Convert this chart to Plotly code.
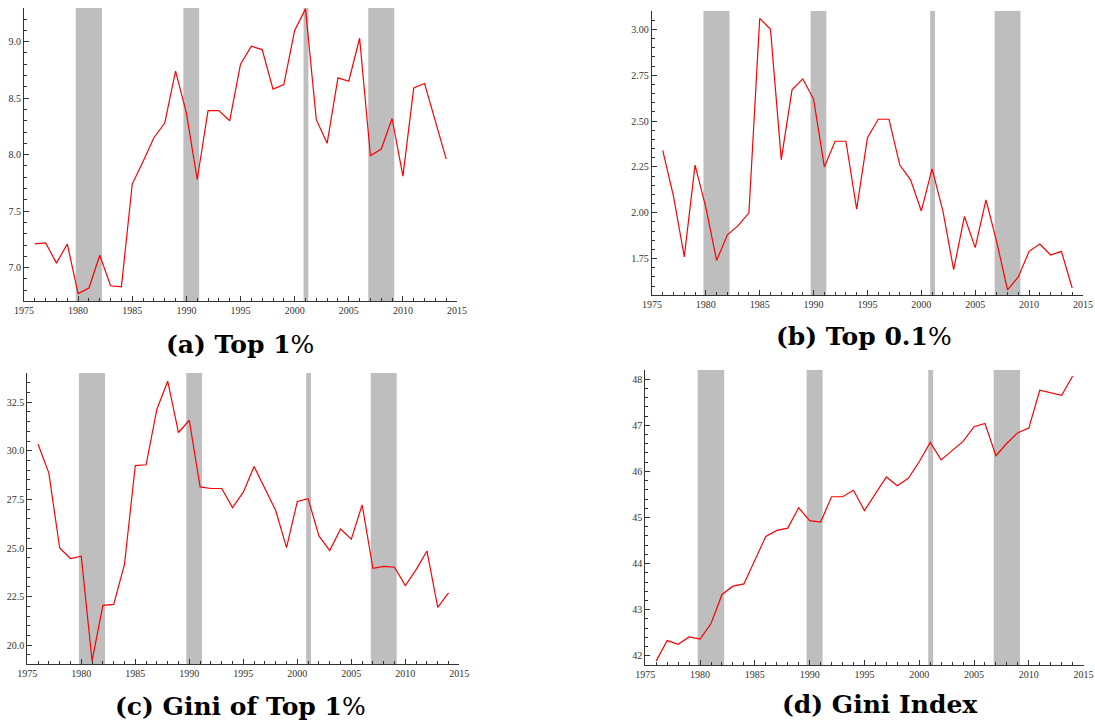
import plotly.graph_objects as go

years = list(range(1976, 2015))

top1 = [7.21, 7.22, 7.04, 7.21, 6.77, 6.82, 7.11, 6.84, 6.83,
        7.74, 7.94, 8.15, 8.28, 8.74, 8.37, 7.78, 8.39, 8.39, 8.30,
        8.80, 8.96, 8.93, 8.58, 8.62, 9.10, 9.29, 8.31, 8.10, 8.68,
        8.65, 9.03, 7.99, 8.05, 8.32, 7.81, 8.59, 8.63, 8.30, 7.96]

top01 = [2.34, 2.09, 1.76, 2.26, 2.03, 1.74, 1.88, 1.93, 2.00,
         3.06, 3.00, 2.29, 2.67, 2.73, 2.62, 2.25, 2.39, 2.39, 2.02,
         2.41, 2.51, 2.51, 2.26, 2.18, 2.01, 2.24, 2.01, 1.69, 1.98,
         1.81, 2.07, 1.84, 1.58, 1.65, 1.79, 1.83, 1.77, 1.79, 1.59]

gini_top1 = [30.34, 28.85, 25.00, 24.46, 24.58, 19.19, 22.05, 22.10, 24.16,
             29.24, 29.28, 32.14, 33.58, 30.94, 31.57, 28.14, 28.06, 28.06, 27.08,
             27.87, 29.19, 28.06, 26.93, 25.02, 27.39, 27.54, 25.62, 24.87, 25.98,
             25.45, 27.22, 23.96, 24.06, 24.01, 23.07, 23.89, 24.85, 21.95, 22.69]

gini_index = [41.89, 42.33, 42.25, 42.41, 42.36, 42.70, 43.33, 43.51, 43.56,
              44.08, 44.59, 44.72, 44.77, 45.21, 44.93, 44.90, 45.45, 45.45, 45.59,
              45.15, 45.52, 45.88, 45.69, 45.85, 46.21, 46.63, 46.25, 46.44, 46.65,
              46.97, 47.04, 46.34, 46.61, 46.84, 46.94, 47.76, 47.71, 47.65, 48.07]

rec_start = [1979.78, 1989.72, 2000.82, 2006.80]
rec_end = [1982.20, 1991.18, 2001.27, 2009.20]

captions = ["<b>(a) Top 1</b>%", "<b>(b) Top 0.1</b>%",
            "<b>(c) Gini of Top 1</b>%", "<b>(d) Gini Index</b>"]
x_ticks = [1975, 1980, 1985, 1990, 1995, 2000, 2005, 2010, 2015]

panels = [
    dict(data=top1, xdom=[0.0219, 0.4174], ydom=[0.5854, 0.9890], yrange=[6.705, 9.298],
         dtick=0.5, minor=0.1, fmt=".1f", cap_x=240, cap_y=344),
    dict(data=top01, xdom=[0.5954, 0.9890], ydom=[0.5937, 0.9848], yrange=[1.552, 3.10],
         dtick=0.25, minor=0.05, fmt=".2f", cap_x=864, cap_y=336),
    dict(data=gini_top1, xdom=[0.0249, 0.4195], ydom=[0.0850, 0.4862], yrange=[19.02, 34.0],
         dtick=2.5, minor=0.5, fmt=".1f", cap_x=240, cap_y=706),
    dict(data=gini_index, xdom=[0.5893, 0.9896], ydom=[0.0840, 0.4904], yrange=[41.8, 48.2],
         dtick=1, minor=0.2, fmt="d", cap_x=880, cap_y=704),
]

W, H = 1095, 726
fig = go.Figure()
tickfont = dict(family="Liberation Serif", size=10, color="#333333")
layout = dict(width=W, height=H, margin=dict(l=0, r=0, t=0, b=0, autoexpand=False),
              paper_bgcolor="white", plot_bgcolor="white", showlegend=False)
shapes = []
annotations = []

for i, p in enumerate(panels):
    n = i + 1
    xa = "x" if n == 1 else f"x{n}"
    ya = "y" if n == 1 else f"y{n}"
    fig.add_trace(go.Scatter(x=years, y=p["data"], mode="lines",
                             line=dict(color="#ff0000", width=1.2),
                             xaxis=xa, yaxis=ya, hoverinfo="skip", cliponaxis=False))
    xkey = "xaxis" if n == 1 else f"xaxis{n}"
    ykey = "yaxis" if n == 1 else f"yaxis{n}"
    layout[xkey] = dict(domain=p["xdom"], range=[1975, 2015], anchor=ya, automargin=False,
                        tickvals=x_ticks, ticks="inside", ticklen=5, tickwidth=1,
                        tickcolor="#333333", showline=True, linecolor="#333333",
                        linewidth=1.2, showgrid=False, zeroline=False, tickfont=tickfont,
                        minor=dict(dtick=1, tick0=1975, ticks="inside", ticklen=3,
                                   tickcolor="#333333", showgrid=False))
    layout[ykey] = dict(domain=p["ydom"], range=p["yrange"], anchor=xa, automargin=False,
                        dtick=p["dtick"], tick0=0, tickformat=p["fmt"],
                        ticks="inside", ticklen=5, tickwidth=1,
                        tickcolor="#333333", showline=True, linecolor="#333333",
                        linewidth=1.2, showgrid=False, zeroline=False, tickfont=tickfont,
                        minor=dict(dtick=p["minor"], tick0=0, ticks="inside", ticklen=3,
                                   tickcolor="#333333", showgrid=False))
    for s, e in zip(rec_start, rec_end):
        shapes.append(dict(type="rect", xref=xa, yref=f"{ya} domain", x0=s, x1=e,
                           y0=0, y1=1, fillcolor="#bebebe", line=dict(width=0),
                           layer="below"))
    annotations.append(dict(text=captions[i], xref="paper", yref="paper",
                            x=p["cap_x"] / W, y=1 - p["cap_y"] / H,
                            xanchor="center", yanchor="middle", showarrow=False,
                            font=dict(family="DejaVu Serif", size=25, color="#000000")))

layout["shapes"] = shapes
layout["annotations"] = annotations
fig.update_layout(**layout)
fig.write_html("out.html", config={"displayModeBar": False},
               post_script="document.body.style.margin='0';document.body.style.padding='0';")
